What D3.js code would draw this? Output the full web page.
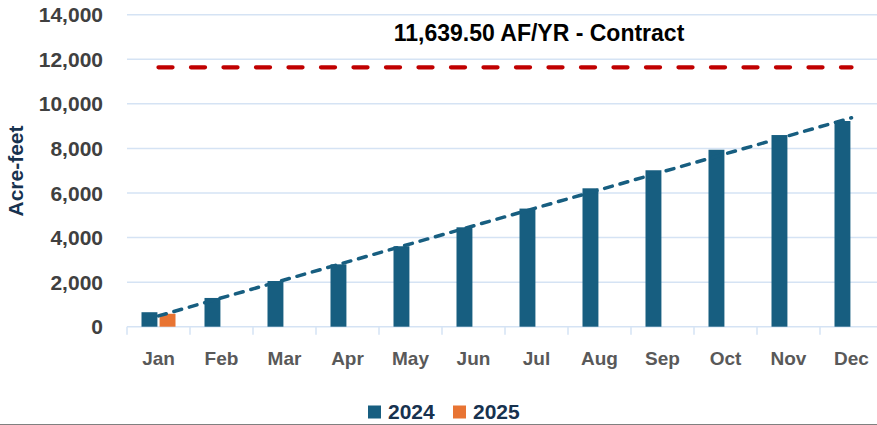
<!DOCTYPE html>
<html>
<head>
<meta charset="utf-8">
<script src="https://cdn.jsdelivr.net/npm/d3@7"></script>
<style>
  html, body { margin: 0; padding: 0; background: #fff; }
  svg { display: block; font-family: "Liberation Sans", Arial, sans-serif; }
</style>
</head>
<body>
<div id="chart"></div>
<script>
// Monthly cumulative deliveries vs contract amount.
const months = ['Jan', 'Feb', 'Mar', 'Apr', 'May', 'Jun', 'Jul', 'Aug', 'Sep', 'Oct', 'Nov', 'Dec'];
const series = ['2024', '2025'];
const values2024 = [650, 1290, 2050, 2800, 3610, 4460, 5300, 6210, 7020, 7940, 8600, 9230];
const values2025 = [580];
const contract = 11639.5;
const contractLabel = '11,639.50 AF/YR - Contract';
const yTicks = [0, 2000, 4000, 6000, 8000, 10000, 12000, 14000];

const COLORS = {
  bar2024: '#175E80',
  bar2025: '#E87433',
  contract: '#C00000',
  grid: '#D5E3F4',
  tick: '#404040',
  xTick: '#595959',
  navy: '#17324F',
};

const width = 877, height = 425;
const margin = { left: 127, top: 14.7 };
const innerW = 756, innerH = 312;

const svg = d3.select('#chart').append('svg')
  .attr('width', width).attr('height', height);
const g = svg.append('g').attr('transform', `translate(${margin.left},${margin.top})`);

const x = d3.scaleBand().domain(months).range([0, innerW]);
const y = d3.scaleLinear().domain([0, 14000]).range([innerH, 0]);

// gridlines + y labels
const yg = g.append('g');
yg.selectAll('line').data(yTicks.filter((d) => d > 0)).join('line')
  .attr('x1', 0).attr('x2', innerW)
  .attr('y1', (d) => y(d)).attr('y2', (d) => y(d))
  .attr('stroke', COLORS.grid).attr('stroke-width', 1.5);
yg.selectAll('text').data(yTicks).join('text')
  .attr('x', -24).attr('y', (d) => y(d)).attr('dy', '0.36em')
  .attr('text-anchor', 'end')
  .attr('font-size', 21).attr('font-weight', 700)
  .attr('fill', COLORS.tick)
  .text(d3.format(','));

// x axis line + ticks
const xg = g.append('g').attr('transform', `translate(0,${innerH})`);
xg.append('line').attr('x1', 0).attr('x2', innerW)
  .attr('stroke', COLORS.grid).attr('stroke-width', 1.5);
xg.selectAll('line.tk').data(d3.range(months.length + 1)).join('line')
  .attr('class', 'tk')
  .attr('x1', (i) => i * x.bandwidth()).attr('x2', (i) => i * x.bandwidth())
  .attr('y1', 0).attr('y2', 8)
  .attr('stroke', COLORS.grid).attr('stroke-width', 1.5);
xg.selectAll('text').data(months).join('text')
  .attr('x', (d) => x(d) + x.bandwidth() / 2).attr('y', 38)
  .attr('text-anchor', 'middle')
  .attr('font-size', 19).attr('font-weight', 700)
  .attr('fill', COLORS.xTick)
  .text((d) => d);

// grouped bars
const inner = d3.scaleBand().domain(series).range([-17, 17]).paddingInner(0.12);
const bars = [
  ...values2024.map((v, i) => ({ m: months[i], s: '2024', v })),
  ...values2025.map((v, i) => ({ m: months[i], s: '2025', v })),
];
g.append('g').selectAll('rect').data(bars).join('rect')
  .attr('x', (d) => x(d.m) + x.bandwidth() / 2 + inner(d.s))
  .attr('width', inner.bandwidth())
  .attr('y', (d) => y(d.v))
  .attr('height', (d) => innerH - y(d.v))
  .attr('fill', (d) => (d.s === '2024' ? COLORS.bar2024 : COLORS.bar2025));

// linear trendline on 2024
const xs = values2024.map((_, i) => i + 1);
const mx = d3.mean(xs), my = d3.mean(values2024);
const slope = d3.sum(xs, (xi, i) => (xi - mx) * (values2024[i] - my)) / d3.sum(xs, (xi) => (xi - mx) ** 2);
const icpt = my - slope * mx;
const cx = (n) => x(months[n - 1]) + x.bandwidth() / 2;
g.append('line')
  .attr('x1', cx(1)).attr('y1', y(icpt + slope))
  .attr('x2', cx(12)).attr('y2', y(icpt + slope * 12))
  .attr('stroke', COLORS.bar2024).attr('stroke-width', 3.5)
  .attr('stroke-dasharray', '8,8').attr('stroke-linecap', 'round');

// contract line
g.append('line')
  .attr('x1', cx(1)).attr('x2', cx(12))
  .attr('y1', y(contract)).attr('y2', y(contract))
  .attr('stroke', COLORS.contract).attr('stroke-width', 4.3)
  .attr('stroke-dasharray', '14,18.5').attr('stroke-linecap', 'round');
g.append('text')
  .attr('x', 539 - margin.left).attr('y', 41 - margin.top)
  .attr('text-anchor', 'middle')
  .attr('font-size', 23).attr('font-weight', 700)
  .attr('fill', '#000')
  .text(contractLabel);

// y axis title
svg.append('text')
  .attr('transform', 'translate(23,171) rotate(-90)')
  .attr('text-anchor', 'middle')
  .attr('font-size', 21).attr('font-weight', 700)
  .attr('fill', COLORS.navy)
  .text('Acre-feet');

// legend
const leg = svg.append('g').attr('transform', 'translate(368,405.5)');
const legX = [0, 85];
series.forEach((s, i) => {
  leg.append('rect').attr('x', legX[i]).attr('y', 0).attr('width', 13).attr('height', 13)
    .attr('fill', i === 0 ? COLORS.bar2024 : COLORS.bar2025);
  leg.append('text').attr('x', legX[i] + 20).attr('y', 13.5)
    .attr('font-size', 21).attr('font-weight', 700)
    .attr('fill', COLORS.navy)
    .text(s);
});

// bottom border
svg.append('line').attr('x1', 0).attr('x2', width).attr('y1', 424.5).attr('y2', 424.5)
  .attr('stroke', '#808080').attr('stroke-width', 1);
</script>
</body>
</html>
